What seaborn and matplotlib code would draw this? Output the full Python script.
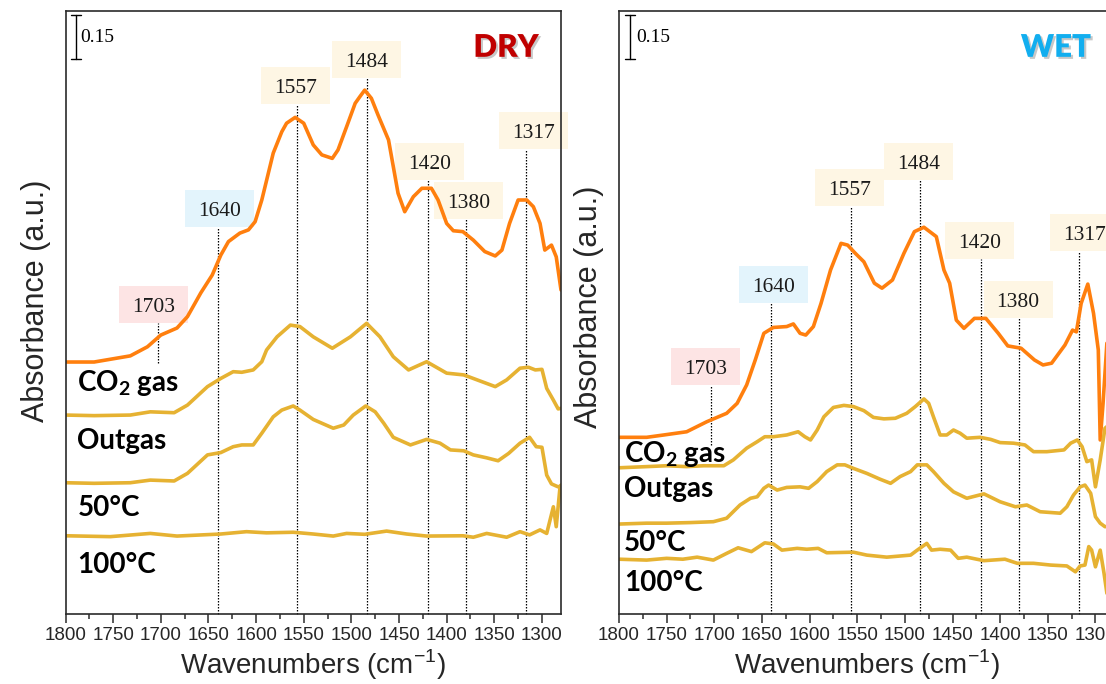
import matplotlib
matplotlib.use("Agg")
import matplotlib.pyplot as plt
import matplotlib.patheffects as pe
import matplotlib.transforms as mtransforms
from matplotlib.patches import Rectangle
from matplotlib.ticker import MultipleLocator
import pandas as pd
import seaborn as sns

sns.set_style("white")
plt.rcParams["font.family"] = ["Liberation Sans", "DejaVu Sans"]

# ---------------------------------------------------------------- DRY spectra
dry_co2_wn = [1800, 1770, 1732, 1714, 1700, 1683, 1672, 1658, 1646, 1637, 1629, 1617,
              1608, 1601, 1594, 1582, 1573, 1568, 1559, 1550, 1540, 1531, 1520, 1514,
              1505, 1496, 1491, 1486, 1479, 1472, 1461, 1456, 1451, 1444, 1435, 1426,
              1416, 1409, 1400, 1393, 1383, 1372, 1360, 1349, 1342, 1334, 1325, 1316,
              1309, 1302, 1297, 1290, 1285, 1280]
dry_co2_abs = [0.860, 0.860, 0.881, 0.912, 0.952, 0.976, 1.015, 1.096, 1.157, 1.225, 1.271, 1.300,
               1.311, 1.339, 1.413, 1.573, 1.646, 1.675, 1.695, 1.675, 1.601, 1.567, 1.555, 1.584,
               1.663, 1.743, 1.766, 1.788, 1.760, 1.703, 1.618, 1.527, 1.436, 1.373, 1.424, 1.453,
               1.453, 1.413, 1.333, 1.308, 1.305, 1.276, 1.237, 1.222, 1.242, 1.333, 1.413, 1.413,
               1.390, 1.333, 1.242, 1.259, 1.219, 1.106]

dry_outgas_wn = [1800, 1770, 1732, 1711, 1686, 1672, 1651, 1637, 1624, 1615, 1603, 1594,
                 1589, 1578, 1564, 1554, 1540, 1520, 1501, 1484, 1470, 1456, 1440, 1421,
                 1400, 1382, 1368, 1349, 1337, 1323, 1314, 1307, 1300, 1295, 1288, 1283, 1280]
dry_outgas_abs = [0.679, 0.677, 0.679, 0.690, 0.687, 0.713, 0.776, 0.804, 0.827, 0.825, 0.833, 0.861,
                  0.901, 0.946, 0.986, 0.981, 0.946, 0.907, 0.946, 0.992, 0.946, 0.878, 0.833, 0.861,
                  0.822, 0.816, 0.799, 0.776, 0.799, 0.839, 0.842, 0.833, 0.835, 0.770, 0.730, 0.700, 0.702]

dry_50_wn = [1800, 1770, 1732, 1711, 1686, 1672, 1651, 1637, 1624, 1615, 1603, 1594,
             1582, 1573, 1561, 1554, 1540, 1519, 1508, 1498, 1485, 1475, 1466, 1456,
             1438, 1421, 1407, 1396, 1382, 1372, 1358, 1346, 1335, 1323, 1313, 1306,
             1300, 1295, 1290, 1283, 1280]
dry_50_abs = [0.448, 0.446, 0.448, 0.457, 0.454, 0.480, 0.543, 0.551, 0.571, 0.577, 0.577, 0.617,
              0.673, 0.696, 0.710, 0.696, 0.664, 0.634, 0.645, 0.679, 0.710, 0.690, 0.651, 0.603,
              0.577, 0.596, 0.583, 0.560, 0.557, 0.543, 0.533, 0.523, 0.548, 0.583, 0.603, 0.571,
              0.569, 0.474, 0.444, 0.434, 0.437]

dry_100_wn = [1800, 1753, 1711, 1683, 1637, 1610, 1589, 1561, 1540, 1519, 1505, 1486,
              1463, 1442, 1421, 1383, 1372, 1358, 1337, 1323, 1313, 1302, 1295, 1288,
              1285, 1281, 1280]
dry_100_abs = [0.267, 0.264, 0.275, 0.266, 0.273, 0.281, 0.277, 0.279, 0.273, 0.266, 0.275, 0.272,
               0.283, 0.273, 0.266, 0.267, 0.262, 0.275, 0.262, 0.281, 0.270, 0.287, 0.275, 0.366,
               0.298, 0.434, 0.440]

# ---------------------------------------------------------------- WET spectra
wet_co2_wn = [1800, 1771, 1753, 1729, 1708, 1687, 1676, 1666, 1657, 1648, 1638, 1624,
              1617, 1610, 1604, 1596, 1588, 1578, 1567, 1560, 1552, 1543, 1532, 1524,
              1513, 1501, 1490, 1480, 1467, 1459, 1453, 1446, 1438, 1427, 1415, 1402,
              1392, 1378, 1364, 1355, 1346, 1332, 1324, 1320, 1315, 1308, 1302, 1297,
              1295, 1292, 1288, 1284]
wet_co2_abs = [0.603, 0.603, 0.611, 0.622, 0.656, 0.685, 0.719, 0.782, 0.867, 0.958, 0.978, 0.981,
               0.990, 0.958, 0.952, 0.981, 1.060, 1.174, 1.265, 1.259, 1.231, 1.202, 1.129, 1.112,
               1.140, 1.231, 1.305, 1.320, 1.288, 1.174, 1.129, 1.003, 0.975, 1.009, 1.009, 0.958,
               0.915, 0.907, 0.867, 0.850, 0.856, 0.918, 0.969, 0.963, 1.060, 1.126, 1.026, 0.901,
               0.594, 0.719, 0.924, 0.950]

wet_outgas_wn = [1800, 1771, 1750, 1729, 1711, 1690, 1680, 1666, 1655, 1647, 1638, 1624,
                 1612, 1605, 1599, 1592, 1585, 1575, 1564, 1554, 1543, 1533, 1522, 1510,
                 1498, 1489, 1480, 1475, 1470, 1463, 1456, 1449, 1442, 1435, 1421, 1410,
                 1400, 1386, 1374, 1365, 1351, 1333, 1326, 1319, 1314, 1309, 1304, 1300,
                 1295, 1290, 1284]
wet_outgas_abs = [0.499, 0.503, 0.506, 0.503, 0.506, 0.506, 0.526, 0.566, 0.588, 0.605, 0.605, 0.611,
                  0.622, 0.605, 0.594, 0.628, 0.673, 0.705, 0.712, 0.708, 0.694, 0.671, 0.666, 0.668,
                  0.685, 0.708, 0.734, 0.719, 0.673, 0.611, 0.611, 0.628, 0.617, 0.600, 0.603, 0.596,
                  0.585, 0.583, 0.577, 0.554, 0.554, 0.560, 0.583, 0.594, 0.571, 0.520, 0.526, 0.434,
                  0.526, 0.634, 0.650]

wet_50_wn = [1800, 1771, 1750, 1725, 1701, 1687, 1673, 1662, 1655, 1648, 1643, 1634,
             1624, 1610, 1601, 1592, 1582, 1571, 1563, 1554, 1540, 1526, 1515, 1505,
             1494, 1487, 1477, 1470, 1459, 1449, 1435, 1417, 1400, 1384, 1372, 1358,
             1337, 1330, 1323, 1316, 1311, 1305, 1300, 1295, 1290, 1284]
wet_50_abs = [0.307, 0.310, 0.310, 0.312, 0.315, 0.327, 0.372, 0.395, 0.400, 0.429, 0.440, 0.423,
              0.432, 0.434, 0.429, 0.452, 0.486, 0.509, 0.509, 0.497, 0.480, 0.460, 0.446, 0.469,
              0.486, 0.509, 0.509, 0.486, 0.446, 0.417, 0.395, 0.410, 0.383, 0.366, 0.372, 0.349,
              0.344, 0.366, 0.406, 0.434, 0.440, 0.412, 0.332, 0.310, 0.298, 0.300]

wet_100_wn = [1800, 1771, 1750, 1733, 1718, 1701, 1687, 1675, 1661, 1647, 1638, 1629,
              1613, 1603, 1591, 1582, 1554, 1540, 1519, 1494, 1487, 1477, 1472, 1463,
              1452, 1444, 1435, 1417, 1395, 1382, 1365, 1347, 1330, 1321, 1316, 1311,
              1307, 1304, 1300, 1295, 1291, 1288, 1284]
wet_100_abs = [0.187, 0.184, 0.190, 0.187, 0.194, 0.184, 0.207, 0.226, 0.213, 0.243, 0.239, 0.218,
               0.224, 0.221, 0.224, 0.209, 0.211, 0.201, 0.194, 0.201, 0.218, 0.241, 0.218, 0.221,
               0.218, 0.190, 0.194, 0.182, 0.187, 0.173, 0.173, 0.167, 0.164, 0.144, 0.164, 0.167,
               0.230, 0.218, 0.161, 0.218, 0.139, 0.071, 0.060]

# ---------------------------------------------------------------- annotations
peak_values = [1703, 1640, 1557, 1484, 1420, 1380, 1317]
peak_box_colors = ["#FDE4E4", "#E3F4FC", "#FEF6E4", "#FEF6E4", "#FEF6E4", "#FEF6E4", "#FEF6E4"]
dry_box_x = [1707.6, 1638.2, 1558.4, 1484.3, 1418.2, 1376.9, 1308.6]
dry_box_y = [0.514, 0.673, 0.876, 0.919, 0.751, 0.685, 0.801]
wet_box_x = [1709.1, 1637.7, 1557.9, 1485.4, 1421.3, 1381.2, 1311.0]
wet_box_y = [0.410, 0.546, 0.708, 0.751, 0.620, 0.521, 0.632]
dry_short_line_end = 0.857
wet_short_line_end = 0.577

series_names = ["CO$_\\mathregular{2}$ gas", "Outgas", "50°C", "100°C"]
dry_name_y = [0.370, 0.273, 0.1625, 0.0685]
wet_name_y = [0.2526, 0.1935, 0.105, 0.0386]

scale_bar = 0.15

ORANGE = "#FF7F0E"
GOLD = "#E6B232"
SPINE = "#2b2b2b"

W, H = 1106, 684
YMAX = 603 / 293
fig = plt.figure(figsize=(W / 100, H / 100), dpi=100)
ax_dry = fig.add_axes([65.5 / W, 70 / H, 495.5 / W, 603 / H])
ax_wet = fig.add_axes([619 / W, 70 / H, 495.5 / W, 603 / H])

px_per_unit = 495.5 / 520.0
box_w = 69 / px_per_unit
box_h = 37 / 603


def draw_panel(ax, curves, box_x, box_y, short_end, name_y, name_x, title, title_x,
               title_color, bar_x, bar_label_x, ylabel_xy):
    ax.set_xlim(1800, 1280)
    ax.set_ylim(0, YMAX)
    xt = ax.get_xaxis_transform()

    for i, (v, bx, by, col) in enumerate(zip(peak_values, box_x, box_y, peak_box_colors)):
        top = by - box_h / 2
        bottom = short_end / YMAX if i == 0 else 0
        ax.plot([v, v], [bottom, top], transform=xt, color="black", lw=0.9,
                ls=(0, (1.2, 1.2)), zorder=1, clip_on=False)
        ax.add_patch(Rectangle((bx - box_w / 2, by - box_h / 2), box_w, box_h,
                               transform=xt, facecolor=col, edgecolor="none",
                               zorder=1.2, clip_on=False))
        ax.text(bx, by - 7.5 / 603, str(v), transform=xt, ha="center", va="baseline",
                fontsize=15.5, family="Liberation Serif", color="#1a1a1a", zorder=1.3,
                clip_on=False)

    for (wn, ab), col in zip(curves, [ORANGE, GOLD, GOLD, GOLD]):
        df = pd.DataFrame({"wn": wn, "abs": ab})
        sns.lineplot(data=df, x="wn", y="abs", ax=ax, color=col, lw=2.6, sort=False,
                     estimator=None, zorder=2, solid_joinstyle="round",
                     solid_capstyle="round")

    for name, y in zip(series_names, name_y):
        ax.text(name_x, y, name, transform=ax.transAxes, ha="left", va="baseline",
                fontsize=20, family="Lato", fontweight="bold", color="black", zorder=5)

    ax.text(title_x, 0.924, title, transform=ax.transAxes, ha="center",
            va="baseline", fontsize=22.5, family="Lato", fontweight="heavy",
            color=title_color, zorder=5,
            path_effects=[pe.withSimplePatchShadow(offset=(1.5, -1.5),
                                                   shadow_rgbFace="#777777", alpha=0.4)])

    bt = mtransforms.blended_transform_factory(ax.transAxes, ax.transData)
    y0 = (614 - 59) / 293
    y1 = y0 + scale_bar
    cap = 5 / 495.5
    ax.plot([bar_x, bar_x], [y0, y1], transform=bt, color="black", lw=1.0)
    ax.plot([bar_x - cap, bar_x + cap], [y0, y0], transform=bt, color="black", lw=1.0)
    ax.plot([bar_x - cap, bar_x + cap], [y1, y1], transform=bt, color="black", lw=1.0)
    ax.text(bar_label_x, (y0 + y1) / 2, f"{scale_bar:.2f}", transform=bt,
            ha="left", va="center", fontsize=14, family="Liberation Serif", color="black")

    ax.xaxis.set_major_locator(MultipleLocator(50))
    ax.xaxis.set_minor_locator(MultipleLocator(25))
    ax.set_yticks([])
    ax.tick_params(axis="x", which="major", direction="out", length=6.5, width=1.1,
                   color=SPINE, labelsize=13.5, pad=2.5, bottom=True)
    ax.tick_params(axis="x", which="minor", direction="out", length=3.3, width=1.1,
                   color=SPINE, bottom=True)
    for s in ax.spines.values():
        s.set_color(SPINE)
        s.set_linewidth(1.2)
    ax.set_xlabel("Wavenumbers (cm$^{\\mathregular{-1}}$)", fontsize=20, labelpad=3)
    ax.set_ylabel("Absorbance (a.u.)", fontsize=22)
    ax.yaxis.set_label_coords(*ylabel_xy)


draw_panel(ax_dry,
           [(dry_co2_wn, dry_co2_abs), (dry_outgas_wn, dry_outgas_abs),
            (dry_50_wn, dry_50_abs), (dry_100_wn, dry_100_abs)],
           dry_box_x, dry_box_y, dry_short_line_end, dry_name_y, 0.024,
           "DRY", 0.889, "#C00000", 0.021, 0.029, (-0.030, 0.52))
draw_panel(ax_wet,
           [(wet_co2_wn, wet_co2_abs), (wet_outgas_wn, wet_outgas_abs),
            (wet_50_wn, wet_50_abs), (wet_100_wn, wet_100_abs)],
           wet_box_x, wet_box_y, wet_short_line_end, wet_name_y, 0.010,
           "WET", 0.882, "#12AEEF", 0.022, 0.034, (-0.031, 0.51))

fig.savefig("out.png", dpi=100)
